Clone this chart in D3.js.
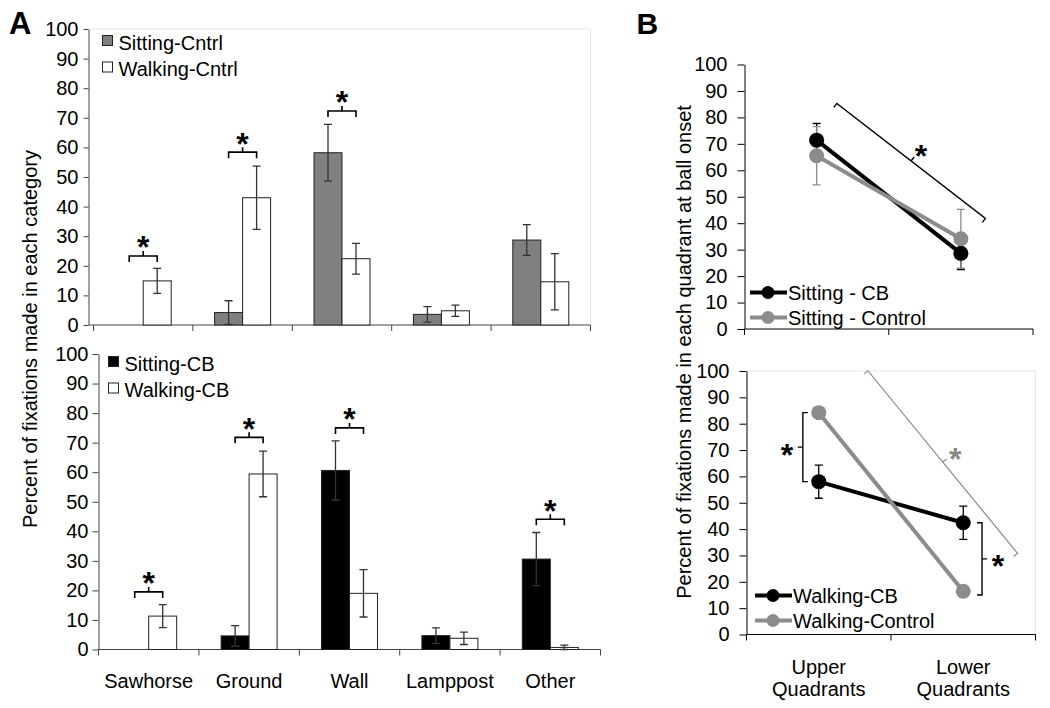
<!DOCTYPE html>
<html><head><meta charset="utf-8">
<script src="https://cdn.jsdelivr.net/npm/d3@7"></script>
<style>
body{margin:0;background:#fff;}
svg{display:block;font-family:Arial,"Liberation Sans",Helvetica,sans-serif;}
</style></head>
<body>
<svg id="c" width="1050" height="708"></svg>
<script>
// ---------- DATA ----------
const categories = ["Sawhorse","Ground","Wall","Lamppost","Other"];
const yTicks = [0,10,20,30,40,50,60,70,80,90,100];

const sittingCntrl    = [0, 4.2, 58.2, 3.6, 28.7];
const sittingCntrlErr = [0, 4.0, 9.6, 2.6, 5.2];
const walkingCntrl    = [14.9, 43.0, 22.4, 4.8, 14.6];
const walkingCntrlErr = [4.2, 10.7, 5.2, 1.9, 9.5];
const cntrlSigLevel   = [23.3, 58.4, 72.3, null, null];

const sittingCB    = [0, 4.6, 60.6, 4.7, 30.6];
const sittingCBErr = [0, 3.5, 10.0, 2.6, 9.0];
const walkingCB    = [11.3, 59.4, 19.0, 3.8, 0.7];
const walkingCBErr = [3.9, 7.7, 8.0, 2.1, 0.8];
const cbSigLevel   = [19.5, 71.8, 75.0, null, 44.1];

const quadrants = [["Upper","Quadrants"],["Lower","Quadrants"]];
const sittingCBQ        = [71.4, 28.6];
const sittingCBQErr     = [6.3, 6.1];
const sittingControlQ   = [65.5, 34.1];
const sittingControlQErr= [11.0, 11.1];
const walkingCBQ        = [58.0, 42.4];
const walkingCBQErr     = [6.3, 6.3];
const walkingControlQ   = [84.2, 16.4];
const walkingControlQErr= [1.5, 2.0];

// significance braces in panel B: [categoryIndexPos, value] end points
const sitBrace   = [[0.14, 85.3],[1.17, 41.8]];
const walkBraceG = [[0.34, 100.1],[1.376, 30.8]];
const walkBraceL = [[-0.11, 84.2],[-0.11, 58.0]];
const walkBraceR = [[1.13, 42.4],[1.13, 15.0]];

// ---------- DRAW ----------
const svg = d3.select("#c");
const FS = 20;
const GRAY = "#8c8c8c";

function star(g, cx, cy, color){
  const fs = 32;
  g.append("text").attr("x", cx).attr("y", cy + 0.575*fs)
    .attr("text-anchor","middle").attr("font-size", fs).attr("font-weight","bold")
    .attr("fill", color||"#000").text("*");
}

function brace(g, p1, p2, side, color, sw){
  const dx = p2[0]-p1[0], dy = p2[1]-p1[1], L = Math.hypot(dx,dy);
  const ux = dx/L, uy = dy/L;
  let nx = uy*side, ny = -ux*side; // towards star
  const h = 5;
  const mx = (p1[0]+p2[0])/2, my = (p1[1]+p2[1])/2;
  const path = d3.path();
  path.moveTo(p1[0]-nx*h, p1[1]-ny*h);
  path.lineTo(p1[0], p1[1]);
  path.lineTo(p2[0], p2[1]);
  path.lineTo(p2[0]-nx*h, p2[1]-ny*h);
  path.moveTo(mx, my); path.lineTo(mx+nx*h, my+ny*h);
  g.append("path").attr("d", path.toString()).attr("fill","none")
    .attr("stroke", color||"#000").attr("stroke-width", sw||1.4);
  star(g, mx+nx*16, my+ny*16, color);
}

function barPanel(o){
  const g = svg.append("g");
  const y = d3.scaleLinear().domain([0,100]).range([o.y0, o.y1]);
  const x = d3.scaleBand().domain(categories).range([o.xa, o.xb]).paddingInner(0).paddingOuter(0);
  const bw = 28;
  if (o.frame){
    g.append("path").attr("d", `M${o.axisX},${o.y1}H${o.xb}V${o.y0}`)
      .attr("fill","none").attr("stroke","#e6e6e6").attr("stroke-width",1);
  }
  // y axis
  const ya = g.append("g").attr("transform",`translate(${o.axisX},0)`)
    .call(d3.axisLeft(y).tickValues(yTicks).tickSize(o.tickSize).tickSizeOuter(0).tickPadding(o.tickPad));
  ya.selectAll("text").attr("font-size",FS).attr("font-family","Arial, Liberation Sans, sans-serif").attr("fill","#000");
  ya.selectAll("line,path").attr("stroke","#444");
  // x axis line and boundary ticks
  g.append("line").attr("x1",o.axisX).attr("x2",o.xb).attr("y1",o.y0).attr("y2",o.y0).attr("stroke","#444");
  const bounds = categories.map(c=>x(c)).concat([o.xb]);
  g.selectAll(".xt").data(bounds).join("line").attr("x1",d=>d).attr("x2",d=>d)
    .attr("y1",o.y0).attr("y2",o.y0+6).attr("stroke","#444");
  // bars
  categories.forEach((c,i)=>{
    const cx = x(c)+x.bandwidth()/2;
    g.append("rect").attr("x",cx-bw).attr("width",bw)
      .attr("y",y(o.sit[i])).attr("height",y(0)-y(o.sit[i]))
      .attr("fill",o.sitFill).attr("stroke","#222").attr("stroke-width",1);
    g.append("rect").attr("x",cx).attr("width",bw)
      .attr("y",y(o.walk[i])).attr("height",y(0)-y(o.walk[i]))
      .attr("fill","#fff").attr("stroke","#222").attr("stroke-width",1);
    const eb = (xc,v,e)=>{
      if(!e) return;
      const lo = Math.max(0,v-e), hi = v+e;
      g.append("path").attr("d",`M${xc},${y(lo)}V${y(hi)}M${xc-4},${y(hi)}H${xc+4}M${xc-4},${y(lo)}H${xc+4}`)
        .attr("stroke","#333").attr("stroke-width",1.3).attr("fill","none");
    };
    eb(cx-bw/2, o.sit[i], o.sitErr[i]);
    eb(cx+bw/2, o.walk[i], o.walkErr[i]);
    if (o.sig[i]!=null){
      const by = y(o.sig[i]);
      const x1 = cx-bw/2, x2 = cx+bw/2;
      g.append("path").attr("d",`M${x1},${by+6}V${by}H${x2}V${by+6}M${cx},${by}V${by-5}`)
        .attr("fill","none").attr("stroke","#000").attr("stroke-width",1.6);
      star(g, cx, by-16);
    }
  });
  // category labels
  if (o.catY){
    g.selectAll(".cl").data(categories).join("text")
      .attr("x",d=>x(d)+x.bandwidth()/2).attr("y",o.catY)
      .attr("text-anchor","middle").attr("font-size",FS).text(d=>d);
  }
  // legend
  o.legend.forEach((lg,k)=>{
    const ly = o.legY + k*26.5;
    g.append("rect").attr("x",o.legX).attr("y",ly).attr("width",10).attr("height",10)
      .attr("fill",lg.fill).attr("stroke","#222").attr("stroke-width",1);
    g.append("text").attr("x",o.legX+16).attr("y",ly+14).attr("font-size",FS).text(lg.label);
  });
}

barPanel({y0:325, y1:29, xa:93.5, xb:590.5, axisX:88.5, tickSize:5, tickPad:5, frame:true,
  sit:sittingCntrl, sitErr:sittingCntrlErr, walk:walkingCntrl, walkErr:walkingCntrlErr, sig:cntrlSigLevel,
  sitFill:"#808080", legX:102.5, legY:35.5,
  legend:[{fill:"#808080",label:"Sitting-Cntrl"},{fill:"#fff",label:"Walking-Cntrl"}]});

barPanel({y0:649.5, y1:354, xa:98.5, xb:600.5, axisX:98.5, tickSize:6, tickPad:4, frame:false,
  sit:sittingCB, sitErr:sittingCBErr, walk:walkingCB, walkErr:walkingCBErr, sig:cbSigLevel,
  sitFill:"#000", legX:108.5, legY:356.5, catY:688,
  legend:[{fill:"#000",label:"Sitting-CB"},{fill:"#fff",label:"Walking-CB"}]});

svg.append("text").attr("transform","translate(37,339) rotate(-90)")
  .attr("text-anchor","middle").attr("font-size",FS).text("Percent of fixations made in each category");

// ---------- PANEL B ----------
function linePanel(o){
  const g = svg.append("g");
  const y = d3.scaleLinear().domain([0,100]).range([o.y0,o.y1]);
  const x = d3.scalePoint().domain([0,1]).range([o.xa,o.xb]).padding(0.5);
  const step = x.step();
  const xi = v => x(0) + v*step;
  if (o.frame){
    g.append("path").attr("d", `M${o.xa},${o.y1}H${o.xb}V${o.y0}`)
      .attr("fill","none").attr("stroke","#e6e6e6").attr("stroke-width",1);
  }
  const ya = g.append("g").attr("transform",`translate(${o.xa},0)`)
    .call(d3.axisLeft(y).tickValues(yTicks).tickSize(7).tickSizeOuter(0).tickPadding(10));
  ya.selectAll("text").attr("font-size",FS).attr("font-family","Arial, Liberation Sans, sans-serif").attr("fill","#000");
  ya.selectAll("line,path").attr("stroke","#000");
  g.append("line").attr("x1",o.xa).attr("x2",o.xb).attr("y1",o.y0).attr("y2",o.y0).attr("stroke","#000");
  [o.xa,(o.xa+o.xb)/2,o.xb].forEach(v=>g.append("line").attr("x1",v).attr("x2",v)
    .attr("y1",o.y0).attr("y2",o.y0+6).attr("stroke","#000"));
  if (o.catLabels){
    quadrants.forEach((lines,i)=>{
      lines.forEach((t,k)=>g.append("text").attr("x",x(i)).attr("y",o.catY+k*22.5)
        .attr("text-anchor","middle").attr("font-size",FS).text(t));
    });
  }
  // braces (under lines)
  o.braces.forEach(b=>{
    brace(g, [xi(b.pts[0][0]), y(b.pts[0][1])], [xi(b.pts[1][0]), y(b.pts[1][1])], b.side, b.color, b.sw);
  });
  const lineGen = d3.line().x((d,i)=>x(i)).y(d=>y(d));
  o.series.forEach(s=>{
    // error bars
    s.v.forEach((v,i)=>{
      const xc = x(i), e = s.e[i];
      g.append("path").attr("d",`M${xc},${y(v-e)}V${y(v+e)}M${xc-4},${y(v+e)}H${xc+4}M${xc-4},${y(v-e)}H${xc+4}`)
        .attr("stroke",s.color).attr("stroke-width",1.3).attr("fill","none");
    });
  });
  o.series.forEach(s=>{
    g.append("path").datum(s.v).attr("d",lineGen).attr("fill","none")
      .attr("stroke",s.color).attr("stroke-width",4);
    g.selectAll(null).data(s.v).join("circle").attr("cx",(d,i)=>x(i)).attr("cy",d=>y(d))
      .attr("r",7.5).attr("fill",s.color);
  });
  // legend
  o.series.forEach((s,k)=>{
    const ly = o.legY + k*25;
    g.append("line").attr("x1",o.legX).attr("x2",o.legX+37).attr("y1",ly).attr("y2",ly)
      .attr("stroke",s.color).attr("stroke-width",4);
    g.append("circle").attr("cx",o.legX+18).attr("cy",ly).attr("r",6.5).attr("fill",s.color);
    g.append("text").attr("x",o.legX+38).attr("y",ly+7).attr("font-size",FS).text(s.label);
  });
}

linePanel({y0:329, y1:64.5, xa:744.5, xb:1033, frame:false,
  series:[{v:sittingCBQ,e:sittingCBQErr,color:"#000",label:"Sitting - CB"},
          {v:sittingControlQ,e:sittingControlQErr,color:GRAY,label:"Sitting - Control"}],
  braces:[{pts:sitBrace, side:1, color:"#000", sw:1.4}],
  legX:750, legY:292.5});

linePanel({y0:634.5, y1:371, xa:746.5, xb:1035.5, frame:true, catLabels:true, catY:673.5,
  series:[{v:walkingCBQ,e:walkingCBQErr,color:"#000",label:"Walking-CB"},
          {v:walkingControlQ,e:walkingControlQErr,color:GRAY,label:"Walking-Control"}],
  braces:[{pts:walkBraceG, side:1, color:"#888", sw:1.2},
          {pts:walkBraceL, side:-1, color:"#000", sw:1.4},
          {pts:walkBraceR, side:1, color:"#000", sw:1.4}],
  legX:755, legY:595.5});

svg.append("text").attr("transform","translate(691,352) rotate(-90)")
  .attr("text-anchor","middle").attr("font-size",FS).text("Percent of fixations made in each quadrant at ball onset");

// panel letters
svg.append("text").attr("x",9).attr("y",34).attr("font-size",31).attr("font-weight","bold").text("A");
svg.append("text").attr("x",636.5).attr("y",33.5).attr("font-size",30).attr("font-weight","bold").text("B");
</script>
</body></html>
